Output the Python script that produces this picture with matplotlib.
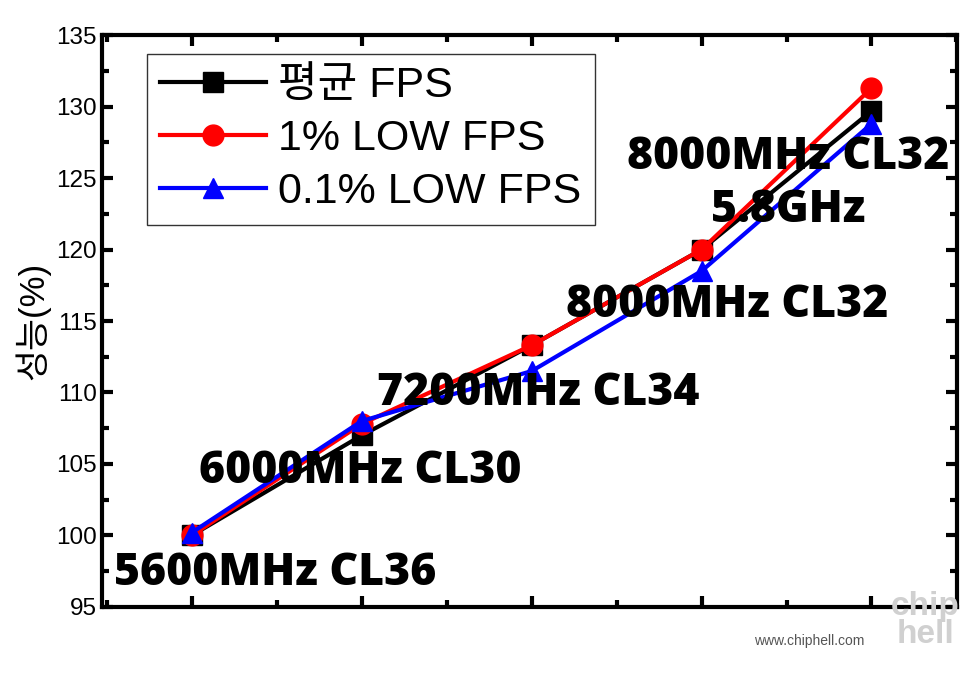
import matplotlib
matplotlib.use('Agg')
import matplotlib.pyplot as plt
from matplotlib.ticker import MultipleLocator

plt.rcParams['font.family'] = ['Liberation Sans', 'Noto Sans CJK KR', 'DejaVu Sans']

# 데이터
x_pos = [1, 2, 3, 4, 5]
avg_fps = [100.0, 107.0, 113.3, 120.0, 129.7]
low1_fps = [100.0, 107.8, 113.3, 120.0, 131.3]
low01_fps = [100.2, 108.0, 111.5, 118.5, 128.8]
series_names = ['평균 FPS', '1% LOW FPS', '0.1% LOW FPS']
annot_texts = ['5600MHz CL36', '6000MHz CL30', '7200MHz CL34', '8000MHz CL32', '8000MHz CL32\n5.8GHz']
annot_x = [1.49, 1.99, 3.04, 4.15, 4.51]
annot_y = [97.3, 104.5, 109.9, 116.1, 124.6]

fig = plt.figure(figsize=(9.79, 6.78), dpi=100)
ax = fig.add_axes([0.104, 0.105, 0.874, 0.843])

ax.plot(x_pos, avg_fps, color='black', lw=3, marker='s', ms=14, label=series_names[0], zorder=3)
ax.plot(x_pos, low1_fps, color='red', lw=3, marker='o', ms=15, label=series_names[1], zorder=4)
ax.plot(x_pos, low01_fps, color='blue', lw=3, marker='^', ms=15, label=series_names[2], zorder=5)

# 주석 텍스트
for t, xx, yy in zip(annot_texts, annot_x, annot_y):
    ax.text(xx, yy, t, ha='center', va='center', fontsize=32, fontweight='heavy',
            family=['Open Sans', 'DejaVu Sans'], linespacing=1.25, zorder=6)

ax.set_xlim(0.47, 5.506)
ax.set_ylim(95, 135)
ax.xaxis.set_major_locator(MultipleLocator(1))
ax.xaxis.set_minor_locator(MultipleLocator(0.5))
ax.yaxis.set_major_locator(MultipleLocator(5))
ax.yaxis.set_minor_locator(MultipleLocator(2.5))
ax.tick_params(which='both', direction='in', top=True, right=True, width=3)
ax.tick_params(which='major', length=8, labelsize=17.5)
ax.tick_params(which='minor', length=5)
ax.tick_params(axis='x', labelbottom=False)
for s in ax.spines.values():
    s.set_linewidth(3)

ax.set_ylabel('성능(%)', fontsize=25, labelpad=4)

leg = ax.legend(loc='upper left', bbox_to_anchor=(0.053, 0.968), fontsize=31,
                handlelength=2.45, handletextpad=0.3, borderpad=0.3,
                labelspacing=0.3, fancybox=False, framealpha=1, borderaxespad=0)
leg.get_frame().set_edgecolor('#333333')
leg.get_frame().set_linewidth(1)

# 워터마크
fig.text(0.77, 0.055, 'www.chiphell.com', fontsize=10, color='#555555', ha='left', va='center')
fig.text(0.945, 0.085, 'chip\nhell', fontsize=24, color='#d0d0d0', ha='center', va='center',
         fontweight='bold', linespacing=0.85)

fig.savefig('out.png', dpi=100)
